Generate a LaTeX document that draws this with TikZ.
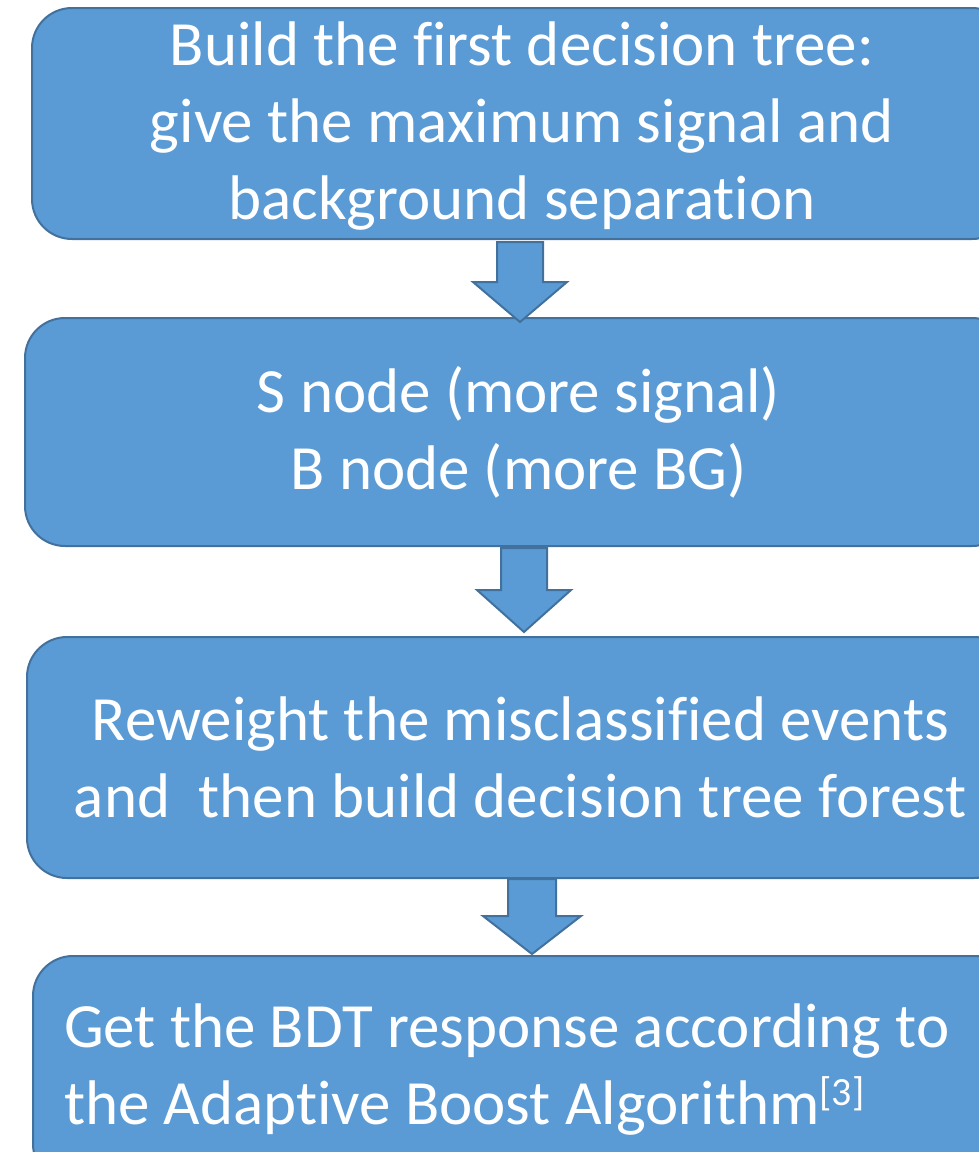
\documentclass[tikz,border=0pt]{standalone}
\usepackage{fontspec}
\setmainfont{Carlito}[Ligatures=NoCommon]
\definecolor{boxfill}{HTML}{5B9BD5}
\definecolor{boxline}{HTML}{41719C}
\begin{document}
\begin{tikzpicture}[x=1pt,y=-1pt,
  flowbox/.style={draw=boxline, fill=boxfill, line width=2pt, rounded corners=40pt,
    text=white, font=\fontsize{63}{77}\selectfont, align=center, inner sep=0pt},
  blockarrow/.style={draw=boxline, fill=boxfill, line width=2pt, line join=miter}]
\useasboundingbox (0,0) rectangle (978,1152);
% boxes
\node[flowbox, minimum width=980pt, minimum height=229pt] (b1) at (522,123.5)
  {\raisebox{-4pt}[\height][\depth]{\begin{tabular}{@{}c@{}}Build the first decision tree:\\give the maximum signal and\\background separation\end{tabular}}};
\node[flowbox, minimum width=987pt, minimum height=228pt] (b2) at (518.5,432)
  {S node (more signal)\\B node (more BG)};
\node[flowbox, minimum width=987pt, minimum height=241pt] (b3) at (520.5,757.5)
  {Reweight the misclassified events\\and\ \ then build decision tree forest};
\node[flowbox, anchor=north west, minimum height=228pt, text width=940pt, align=flush left,
  inner xsep=31pt] (b4) at (32,955)
  {Get the BDT response according to\\the Adaptive Boost Algorithm\raisebox{19pt}{\fontsize{40}{40}\selectfont[3]}};
% block arrows
\draw[blockarrow] (497,242) -- (543,242) -- (543,282) -- (567,282) -- (520,322)
  -- (473,282) -- (497,282) -- cycle;
\draw[blockarrow] (501,548) -- (547,548) -- (547,590) -- (571,590) -- (524,632)
  -- (477,590) -- (501,590) -- cycle;
\draw[blockarrow] (508,879) -- (556,879) -- (556,916) -- (581,916) -- (532,954)
  -- (483,916) -- (508,916) -- cycle;
\end{tikzpicture}
\end{document}
